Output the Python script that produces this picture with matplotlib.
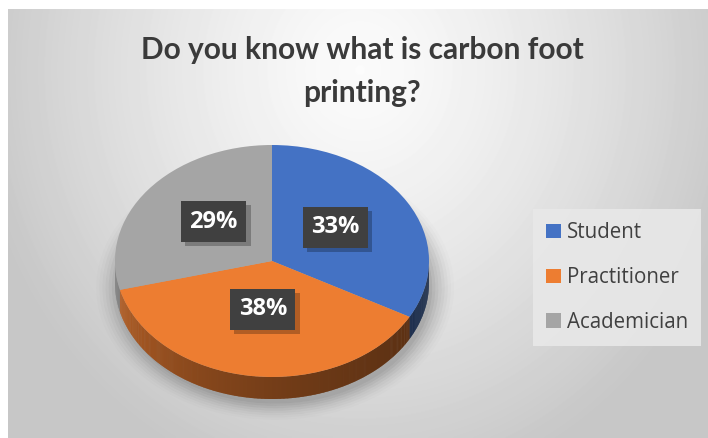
import numpy as np
import matplotlib
matplotlib.use("Agg")
import matplotlib.pyplot as plt
from matplotlib.patches import Polygon, Ellipse
import matplotlib.colors as mcolors
import matplotlib.patheffects as pe

# ---- data ----
title_lines = ["Do you know what is carbon foot", "printing?"]
categories = ["Student", "Practitioner", "Academician"]
values = [33, 38, 29]
colors = ["#4472C4", "#ED7D31", "#A5A5A5"]

FW, FH = 708, 438
fig = plt.figure(figsize=(FW / 100, FH / 100), dpi=100)
fig.patch.set_facecolor("white")

def px_axes(left, top, width, height):
    return fig.add_axes([left / FW, 1 - (top + height) / FH, width / FW, height / FH])

# ---- background gradient ----
bg = px_axes(8, 9, FW - 8, FH - 9)
bg.set_axis_off()
yy, xx = np.mgrid[9:FH, 8:FW]
r = np.sqrt(((xx - 360) / 380.0) ** 2 + ((yy - 70) / 420.0) ** 2)
val = np.clip(0.985 - 0.2 * r ** 1.3, 0.78, 1.0)
bg.imshow(val, cmap="gray", vmin=0, vmax=1, aspect="auto",
          extent=(8, FW, FH, 9), interpolation="bilinear")
bg.set_xlim(8, FW)
bg.set_ylim(FH, 9)

# ---- title ----
for line, ypx in zip(title_lines, [50, 93]):
    fig.text(362 / FW, 1 - ypx / FH, line, ha="center", va="center",
             fontsize=21.5, fontweight="bold", color="#3a3a3a", family="Lato")

# ---- pie (pseudo 3D) ----
cx, cy, rx, ry = 272, 261, 157, 116
L = 1.3
ytop, ybot = 1.2, 1.45
ax = px_axes(cx - L * rx, cy - ytop * ry, 2 * L * rx, (ytop + ybot) * ry)
ax.patch.set_alpha(0)
depth = 22 / ry

# soft shadow
for i, a in enumerate(np.linspace(0.05, 0.012, 8)):
    s = 1 + i * 0.02
    ax.add_patch(Ellipse((0.02, -depth - 0.04), 2 * s, 2 * s, facecolor="black",
                         alpha=a, edgecolor="none", zorder=0))

fracs = np.array(values, float) / np.sum(values)
bounds = np.concatenate([[0], np.cumsum(fracs) * 360])
for i in range(len(values)):
    a0, a1 = bounds[i], bounds[i + 1]
    lo, hi = max(a0, 90), min(a1, 270)
    if hi <= lo:
        continue
    base = np.array(mcolors.to_rgb(colors[i]))
    ths = np.linspace(lo, hi, int((hi - lo) * 2) + 2)
    for t0, t1 in zip(ths[:-1], ths[1:]):
        f = 0.38 + 0.45 * (((t0 + t1) / 2 - 90) / 180) ** 2
        tt = np.radians(np.linspace(t0, t1 + 0.3, 3))
        top = np.column_stack([np.sin(tt), np.cos(tt)])
        bot = np.column_stack([np.sin(tt[::-1]), np.cos(tt[::-1]) - depth])
        ax.add_patch(Polygon(np.vstack([top, bot]), closed=True,
                             facecolor=np.clip(base * f, 0, 1), edgecolor="none", zorder=1))

wedges, _ = ax.pie(values, colors=colors, startangle=90, counterclock=False,
                   wedgeprops=dict(linewidth=0))
for w in wedges:
    w.set_zorder(2)
ax.set_aspect("auto")
ax.set_xlim(-L, L)
ax.set_ylim(-ybot, ytop)
ax.set_axis_off()

# labels
for i, v in enumerate(values):
    mid = np.radians((bounds[i] + bounds[i + 1]) / 2)
    lx, ly = 0.47 * np.sin(mid), 0.47 * np.cos(mid) + 0.05
    t = ax.text(lx, ly, f"{v}%", ha="center", va="center", fontsize=17, fontweight="bold",
                family="Open Sans", color="white", zorder=4,
                bbox=dict(boxstyle="square,pad=0.36", facecolor="#404040", edgecolor="none"))
    t.get_bbox_patch().set_path_effects(
        [pe.withSimplePatchShadow(offset=(3, -3), shadow_rgbFace="black", alpha=0.25)])

# ---- legend ----
leg = fig.legend(wedges, categories, loc="upper left",
                 bbox_to_anchor=(533 / FW, 1 - 209 / FH), frameon=True, borderaxespad=0,
                 handlelength=0.7, handleheight=0.7, handletextpad=0.3,
                 labelspacing=1.15, borderpad=0.65, fancybox=False,
                 prop=dict(family="Open Sans", size=14.8))
leg.get_frame().set_facecolor("#e8e8e8")
leg.get_frame().set_edgecolor("none")
leg.get_frame().set_alpha(0.9)
for t in leg.get_texts():
    t.set_color("#404040")

fig.savefig("out.png", dpi=100)
